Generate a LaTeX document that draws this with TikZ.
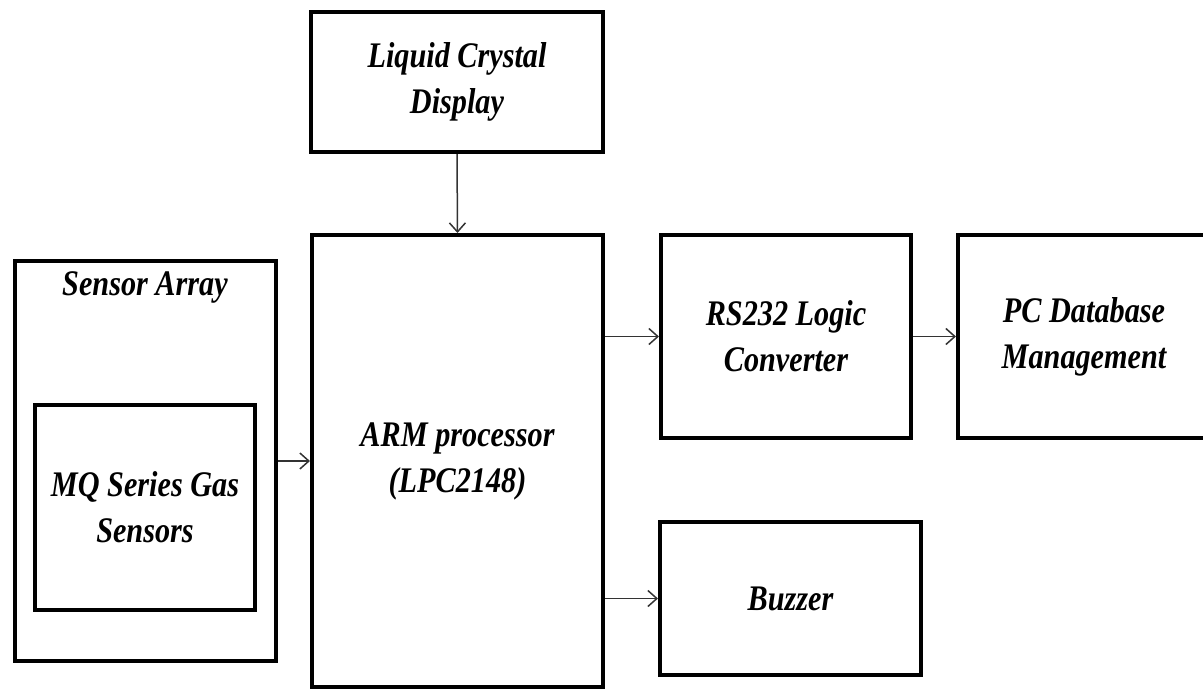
\documentclass[tikz,border=0pt]{standalone}
\usepackage{fontspec}
\setmainfont[FakeStretch=0.84]{Liberation Serif}
\usetikzlibrary{arrows.meta}
\begin{document}
\begin{tikzpicture}[x=1pt,y=-1pt,
  blk/.style={draw=black, line width=4pt, rectangle, inner sep=0pt, align=center,
    font=\fontsize{36}{46}\selectfont\bfseries\itshape},
  conn/.style={draw=black!80, line width=1.5pt, -{Straight Barb[length=9pt,width=16pt,line width=1.5pt]}},
  lbl/.style={font=\fontsize{36}{46}\selectfont\bfseries\itshape, inner sep=0pt}]
\useasboundingbox (0,0) rectangle (1203,689);
\node[blk, minimum width=292pt, minimum height=140pt] (lcd) at (457,82) {Liquid Crystal\\Display};
\node[blk, minimum width=291pt, minimum height=452pt] (arm) at (457.5,461) {ARM processor\\(LPC2148)};
\node[blk, minimum width=261pt, minimum height=400pt] (sensor) at (145.5,461) {};
\node[lbl] (sensorlbl) at (145,287) {Sensor Array};
\node[blk, minimum width=220pt, minimum height=205pt] (mq) at (145,507.5) {MQ Series Gas\\Sensors};
\node[blk, minimum width=250pt, minimum height=203pt] (rs) at (786,336.5) {RS232 Logic\\Converter};
\node[blk, minimum width=252pt, minimum height=203pt] (pc) at (1084,336.5) {PC Database\\Management};
\node[blk, minimum width=261pt, minimum height=153pt] (buz) at (790.5,598.5) {Buzzer};
\draw[conn] (lcd.south) -- (arm.north);
\draw[conn] (sensor.east) -- (arm.west |- sensor.east);
\draw[conn] (arm.east |- rs.west) -- (rs.west);
\draw[conn] (rs.east) -- (pc.west);
\draw[conn] (arm.east |- buz.west) -- (buz.west);
\end{tikzpicture}
\end{document}
